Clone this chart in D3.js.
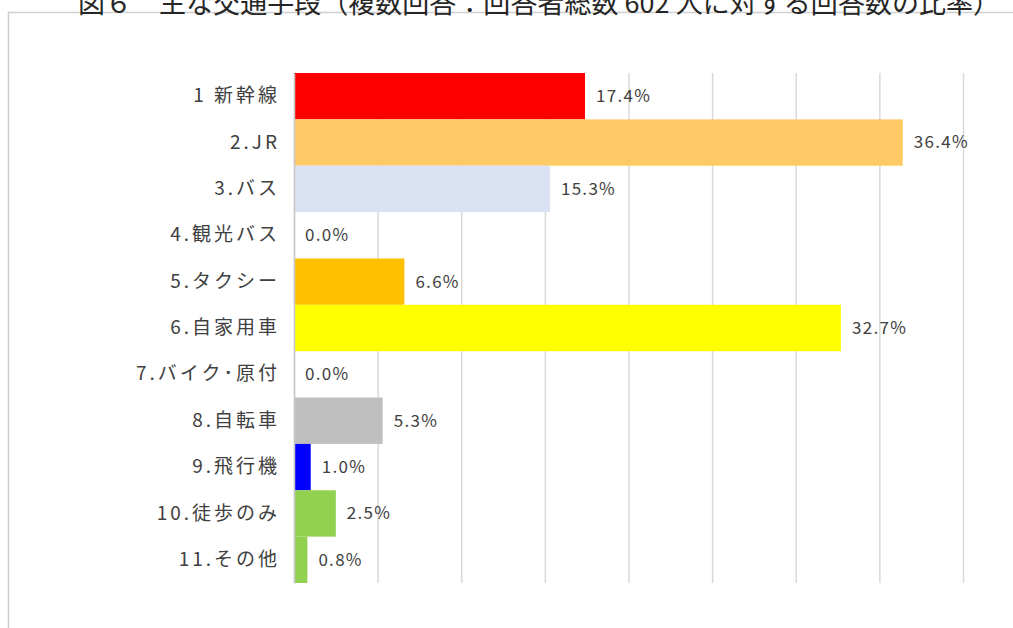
<!DOCTYPE html>
<html>
<head>
<meta charset="utf-8">
<script src="https://cdn.jsdelivr.net/npm/d3@7"></script>
<style>
  body { margin: 0; background: #fff; overflow: hidden; }
  text { font-family: "Noto Sans CJK JP", "Noto Sans", sans-serif; }
</style>
</head>
<body>
<div id="chart-container"></div>
<script>
// Chart data
const title = "図６　主な交通手段（複数回答：回答者総数 602 人に対する回答数の比率）";
const categories = ["1 新幹線", "2.JR", "3.バス", "4.観光バス", "5.タクシー", "6.自家用車",
    "7.バイク･原付", "8.自転車", "9.飛行機", "10.徒歩のみ", "11.その他"];
const values = [17.4, 36.4, 15.3, 0.0, 6.6, 32.7, 0.0, 5.3, 1.0, 2.5, 0.8];
const barColors = ["#ff0000", "#ffc966", "#dae3f3", "#ffffff", "#ffc000", "#ffff00",
    "#ffffff", "#bfbfbf", "#0000ff", "#92d050", "#92d050"];
const xTicks = [0, 5, 10, 15, 20, 25, 30, 35, 40];

const width = 1013, height = 628;
const plot = { left: 294, right: 963, top: 73, bottom: 583 };

function init() {
    const svg = d3.select("#chart-container")
        .append("svg")
        .attr("width", width)
        .attr("height", height);

    // Frame of the chart area (runs off the page right and bottom)
    svg.append("rect")
        .attr("x", 8.5)
        .attr("y", 12.5)
        .attr("width", 1100)
        .attr("height", 700)
        .attr("fill", "none")
        .attr("stroke", "#d0d0d0")
        .attr("stroke-width", 1.5);

    // Title, partly cut off at the top like the source
    svg.append("text")
        .attr("x", 78)
        .attr("y", 13)
        .attr("textLength", 922)
        .attr("lengthAdjust", "spacing")
        .style("font-size", "27px")
        .style("fill", "#262626")
        .text(title);

    const xScale = d3.scaleLinear()
        .domain([0, 40])
        .range([plot.left, plot.right]);

    const yScale = d3.scaleBand()
        .domain(categories)
        .range([plot.top, plot.bottom])
        .padding(0);

    // Vertical gridlines
    const grid = svg.append("g")
        .attr("transform", `translate(0, ${plot.bottom})`)
        .call(d3.axisBottom(xScale)
            .tickValues(xTicks)
            .tickSize(-(plot.bottom - plot.top))
            .tickFormat(""));
    grid.select(".domain").remove();
    grid.selectAll(".tick line")
        .attr("stroke", "#d9d9d9")
        .attr("stroke-width", 1.5);

    // Bars
    svg.selectAll("rect.bar")
        .data(values)
        .enter()
        .append("rect")
        .attr("class", "bar")
        .attr("x", xScale(0))
        .attr("y", (d, i) => yScale(categories[i]))
        .attr("width", d => xScale(d) - xScale(0))
        .attr("height", yScale.bandwidth())
        .attr("fill", (d, i) => barColors[i]);

    // Category axis
    const yAxis = svg.append("g")
        .attr("transform", `translate(${plot.left}, 0)`)
        .call(d3.axisLeft(yScale).tickSize(0).tickPadding(14));
    yAxis.select(".domain")
        .attr("stroke", "#c8c8c8")
        .attr("stroke-width", 1.5);
    yAxis.selectAll(".tick text")
        .style("font-size", "19px")
        .style("letter-spacing", "3px")
        .style("fill", "#404040")
        .style("font-family", "\"Noto Sans CJK JP\", sans-serif");

    // Value labels
    svg.selectAll("text.label")
        .data(values)
        .enter()
        .append("text")
        .attr("class", "label")
        .attr("x", d => xScale(d) + 11)
        .attr("y", (d, i) => yScale(categories[i]) + yScale.bandwidth() / 2)
        .attr("dy", "0.35em")
        .style("font-size", "17px")
        .style("letter-spacing", "1.3px")
        .style("fill", "#404040")
        .text(d => d.toFixed(1) + "%");
}

window.onload = init;
</script>
</body>
</html>
